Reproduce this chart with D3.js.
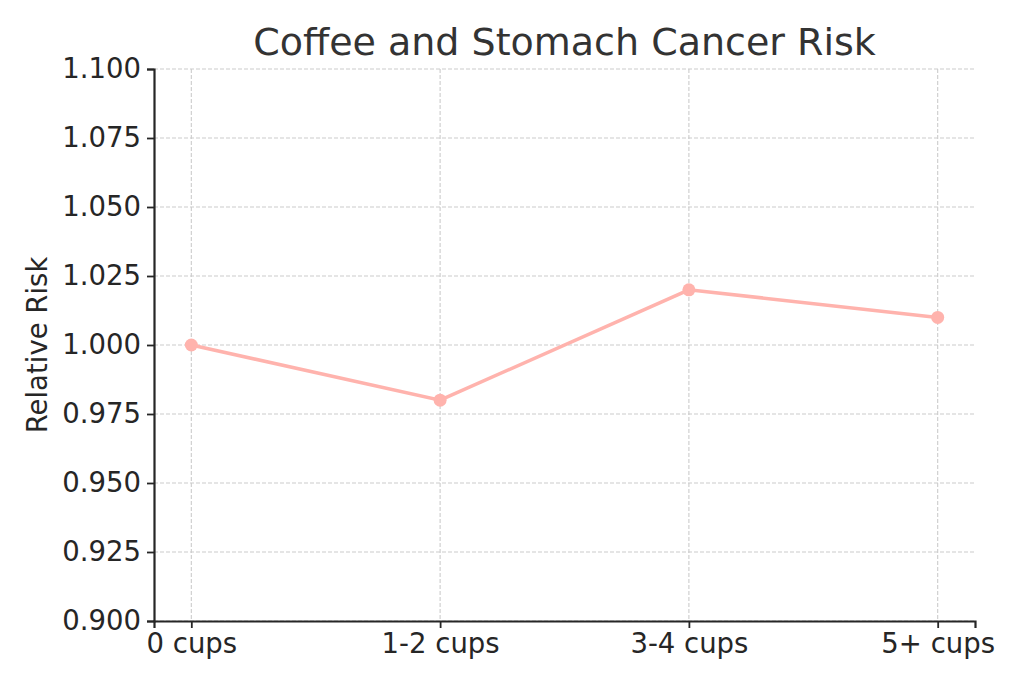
<!DOCTYPE html>
<html>
<head>
<meta charset="utf-8">
<script src="https://d3js.org/d3.v7.min.js"></script>
<style>
  body { margin: 0; background: #fff; }
  text { font-family: "DejaVu Sans", sans-serif; fill: #262626; }
</style>
</head>
<body>
<div id="chart"></div>
<script>
// Data
const categories = ["0 cups", "1-2 cups", "3-4 cups", "5+ cups"];
const relativeRisk = [1.000, 0.980, 1.020, 1.010];
const yTicks = [0.900, 0.925, 0.950, 0.975, 1.000, 1.025, 1.050, 1.075, 1.100];

const W = 1024, H = 683;
const margin = { top: 69, right: 49, bottom: 62, left: 154 };
const width = W - margin.left - margin.right;
const height = H - margin.top - margin.bottom;

const svg = d3.select("#chart").append("svg")
    .attr("width", W)
    .attr("height", H);

const g = svg.append("g")
    .attr("transform", "translate(" + margin.left + "," + margin.top + ")");

// x: point scale, matplotlib-like 5% margins
const x = d3.scalePoint()
    .domain(categories)
    .range([0, width])
    .padding(0.15);

const y = d3.scaleLinear()
    .domain([0.9, 1.1])
    .range([height, 0]);

// grid
g.append("g").selectAll("line")
    .data(yTicks)
    .enter().append("line")
    .attr("x1", 0).attr("x2", width)
    .attr("y1", d => y(d)).attr("y2", d => y(d))
    .attr("stroke", "#cccccc")
    .attr("stroke-width", 1.1)
    .attr("stroke-dasharray", "4,2");

g.append("g").selectAll("line")
    .data(categories)
    .enter().append("line")
    .attr("x1", d => x(d)).attr("x2", d => x(d))
    .attr("y1", 0).attr("y2", height)
    .attr("stroke", "#cccccc")
    .attr("stroke-width", 1.1)
    .attr("stroke-dasharray", "4,2");

// axes
const xAxis = g.append("g")
    .attr("transform", "translate(0," + height + ")")
    .call(d3.axisBottom(x).tickSizeOuter(0).tickSize(7).tickPadding(5));

const yAxis = g.append("g")
    .call(d3.axisLeft(y).tickValues(yTicks).tickFormat(d3.format(".3f"))
        .tickSizeOuter(0).tickSize(7).tickPadding(6));

[xAxis, yAxis].forEach(a => {
    a.select(".domain").attr("stroke", "#262626").attr("stroke-width", 2.2);
    a.selectAll(".tick line").attr("stroke", "#262626").attr("stroke-width", 1.8);
    a.selectAll(".tick text")
        .attr("font-size", 27.5)
        .attr("font-family", "DejaVu Sans")
        .style("fill", "#262626");
});

// line + markers
const line = d3.line()
    .x((d, i) => x(categories[i]))
    .y(d => y(d));

g.append("path")
    .datum(relativeRisk)
    .attr("d", line)
    .attr("fill", "none")
    .attr("stroke", "#ffb3ad")
    .attr("stroke-width", 3.5);

g.selectAll(".dot")
    .data(relativeRisk)
    .enter().append("circle")
    .attr("class", "dot")
    .attr("cx", (d, i) => x(categories[i]))
    .attr("cy", d => y(d))
    .attr("r", 6.5)
    .attr("fill", "#ffb3ad");

// title
svg.append("text")
    .attr("x", margin.left + width / 2)
    .attr("y", 55)
    .attr("text-anchor", "middle")
    .attr("font-size", 38)
    .style("fill", "#333333")
    .text("Coffee and Stomach Cancer Risk");

// y label
svg.append("text")
    .attr("transform", "translate(47," + (margin.top + height / 2) + ") rotate(-90)")
    .attr("text-anchor", "middle")
    .attr("font-size", 27.5)
    .text("Relative Risk");
</script>
</body>
</html>
